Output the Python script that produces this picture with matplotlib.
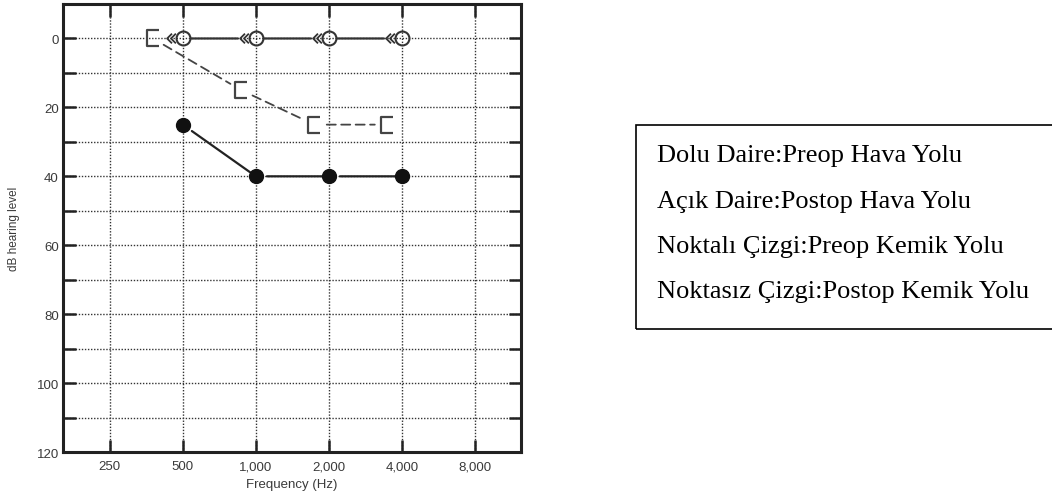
import numpy as np
import matplotlib
matplotlib.use("Agg")
import matplotlib.pyplot as plt
from matplotlib.path import Path
from matplotlib.patches import Rectangle
from matplotlib.transforms import offset_copy

# ---- data ----
freq_labels = ["250", "500", "1,000", "2,000", "4,000", "8,000"]
freqs = [250, 500, 1000, 2000, 4000, 8000]
air_freqs = [500, 1000, 2000, 4000]
preop_air = [25, 40, 40, 40]          # filled circles
postop_air = [0, 0, 0, 0]             # open circles
bone_freqs = [500, 1000, 2000, 4000]
preop_bone = [0, 15, 25, 25]          # "[" with dashed line
# symbol shift to the left of each frequency, in octaves (plotting convention)
bone_shift_oct = [-0.41, -0.2, -0.2, -0.2]
legend_lines = ["Dolu Daire:Preop Hava Yolu",
                "Açık Daire:Postop Hava Yolu",
                "Noktalı Çizgi:Preop Kemik Yolu",
                "Noktasız Çizgi:Postop Kemik Yolu"]
y_ticks = list(range(0, 130, 10))
y_labels = [str(v) if v % 20 == 0 else "" for v in y_ticks]


def pos(f):
    return np.log2(np.asarray(f, dtype=float) / 250.0)


fig = plt.figure(figsize=(10.52, 5.02), dpi=100)
ax = fig.add_axes([0.0599, 0.0976, 0.4353, 0.8924])

sans = ["Liberation Sans", "DejaVu Sans"]
tcol = "#3a3a3a"

ax.set_xlim(-0.64, 5.63)
ax.set_ylim(120, -10)
ax.set_xticks(pos(freqs))
ax.set_xticklabels(freq_labels, fontsize=9.5, family=sans, color=tcol)
ax.set_yticks(y_ticks)
ax.set_yticklabels(y_labels, fontsize=9.5, family=sans, color=tcol)
ax.tick_params(axis="both", direction="in", length=9, width=1.8,
               top=True, right=True, color="#222")
ax.tick_params(axis="x", pad=6)
ax.tick_params(axis="y", pad=3)
for s in ax.spines.values():
    s.set_linewidth(2.2)
    s.set_color("#222")
ax.grid(True, linestyle=(0, (1, 1.2)), linewidth=1.0, color="#333")
ax.set_axisbelow(True)

ax.set_xlabel("Frequency (Hz)", fontsize=9.5, family=sans, color=tcol, labelpad=4)
ax.set_ylabel("dB hearing level", fontsize=8.5, family=sans, color=tcol, labelpad=12)

# preop air (filled circles)
px_air = pos(air_freqs)
for i in range(len(px_air) - 1):
    ax.annotate("", xy=(px_air[i + 1], preop_air[i + 1]),
                xytext=(px_air[i], preop_air[i]),
                arrowprops=dict(arrowstyle="-", color="#222", lw=1.6,
                                shrinkA=8, shrinkB=5), zorder=3)
ax.plot(px_air, preop_air, ls="none", marker="o",
        ms=10, mfc="#111", mec="#111", zorder=4)

# postop air (open circles) with chevron marks on the left
for i in range(len(px_air) - 1):
    ax.annotate("", xy=(px_air[i + 1], postop_air[i + 1]),
                xytext=(px_air[i], postop_air[i]),
                arrowprops=dict(arrowstyle="-", color="#333", lw=1.6,
                                shrinkA=6, shrinkB=13), zorder=3)
ax.plot(px_air, postop_air, ls="none", marker="o", ms=10,
        mfc="none", mec="#333", mew=1.5, zorder=5)
chev = Path([(0.1, 1), (-0.9, 0), (0.1, -1), (0.9, 1), (-0.1, 0), (0.9, -1)],
            [Path.MOVETO, Path.LINETO, Path.LINETO,
             Path.MOVETO, Path.LINETO, Path.LINETO])
tr_chev = offset_copy(ax.transData, fig=fig, x=-8.3, y=0, units="points")
ax.plot(px_air, postop_air, ls="none", marker=chev, ms=7,
        mfc="none", mec="#333", mew=1.3, transform=tr_chev, zorder=6)

# preop bone "[" with dashed line (drawn left of the frequency)
bracket = Path([(0.8, 1), (-0.8, 1), (-0.8, -1), (0.8, -1)],
               [Path.MOVETO, Path.LINETO, Path.LINETO, Path.LINETO])
px_bone = pos(bone_freqs) + np.array(bone_shift_oct)
for i in range(len(px_bone) - 1):
    ax.annotate("", xy=(px_bone[i + 1], preop_bone[i + 1]),
                xytext=(px_bone[i], preop_bone[i]),
                arrowprops=dict(arrowstyle="-", color="#444", lw=1.3,
                                linestyle=(0, (5, 3)),
                                shrinkA=9, shrinkB=9), zorder=3)
ax.plot(px_bone, preop_bone, ls="none", marker=bracket, ms=11,
        mfc="none", mec="#444", mew=1.6, zorder=6)

# legend box
fig.patches.append(Rectangle((0.6046, 0.3426), 0.42, 0.4064,
                             transform=fig.transFigure, fill=False,
                             edgecolor="black", lw=1.2))
ys = [0.6773, 0.5857, 0.496, 0.4064]
for y, t in zip(ys, legend_lines):
    fig.text(0.6245, y, t, fontsize=19,
             family=["Liberation Serif", "DejaVu Serif"],
             va="baseline", ha="left", color="black")

fig.savefig("out.png", dpi=100)
